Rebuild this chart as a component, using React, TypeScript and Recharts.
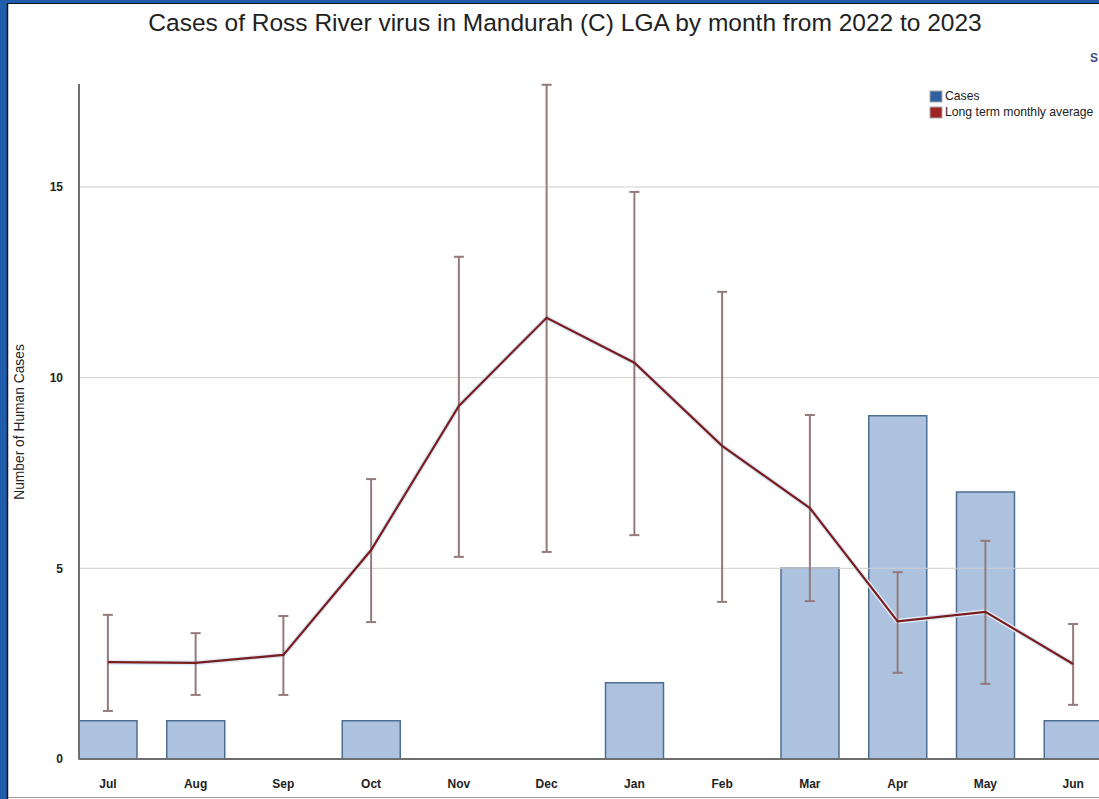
import React from 'react';
import { ComposedChart, Bar, Line, XAxis, YAxis, ReferenceLine, ErrorBar } from 'recharts';

const months = ['Jul', 'Aug', 'Sep', 'Oct', 'Nov', 'Dec', 'Jan', 'Feb', 'Mar', 'Apr', 'May', 'Jun'];
const cases = [1, 1, 0, 1, 0, 0, 2, 0, 5, 9, 7, 1];
const longTermAvg = [2.54, 2.52, 2.73, 5.48, 9.26, 11.57, 10.39, 8.21, 6.58, 3.61, 3.86, 2.49];
const rangeLow = [1.26, 1.68, 1.68, 3.59, 5.3, 5.43, 5.87, 4.12, 4.14, 2.26, 1.97, 1.42];
const rangeHigh = [3.78, 3.3, 3.75, 7.34, 13.17, 17.68, 14.87, 12.25, 9.02, 4.9, 5.72, 3.54];
const yTicks = [0, 5, 10, 15];
const gridValues = [5, 10, 15];

const data = months.map((m, i) => ({
  month: m,
  cases: cases[i],
  avg: longTermAvg[i],
  err: [longTermAvg[i] - rangeLow[i], rangeHigh[i] - longTermAvg[i]],
}));

const FONT = '"Liberation Sans", Arial, sans-serif';

const App: React.FC = () => {
  return (
    <div
      style={{
        position: 'absolute',
        left: 0,
        top: 0,
        width: 1099,
        height: 799,
        overflow: 'hidden',
        background: '#fff',
        fontFamily: FONT,
      }}
    >
      <div style={{ position: 'absolute', left: 0, top: 0 }}>
        <ComposedChart
          width={1117}
          height={797}
          data={data}
          margin={{ top: 84, right: 0, bottom: 0, left: 0 }}
        >
          {gridValues.map((v) => (
            <ReferenceLine key={v} y={v} stroke="#cfcfcf" strokeWidth={1} ifOverflow="hidden" />
          ))}
          <XAxis
            dataKey="month"
            height={38}
            padding={{ left: -15, right: 0 }}
            tickLine={false}
            axisLine={{ stroke: '#6e6e6e', strokeWidth: 2 }}
            tickMargin={14}
            tick={{ fill: '#222', fontSize: 12, fontWeight: 'bold', fontFamily: FONT }}
          />
          <YAxis
            width={79}
            domain={[0, 17.7]}
            ticks={yTicks}
            tickLine={false}
            axisLine={{ stroke: '#6e6e6e', strokeWidth: 2 }}
            tickMargin={10}
            tick={{ fill: '#222', fontSize: 12, fontWeight: 'bold', fontFamily: FONT }}
          />
          <Bar
            dataKey="cases"
            barSize={58}
            fill="#adc2df"
            stroke="#4d6e91"
            strokeWidth={1.5}
            isAnimationActive={false}
          />
          <Line
            dataKey="avg"
            type="linear"
            stroke="#dde9f6"
            strokeWidth={5}
            dot={false}
            activeDot={false}
            legendType="none"
            isAnimationActive={false}
          />
          <Line
            dataKey="avg"
            type="linear"
            stroke="#7a1c1c"
            strokeWidth={2.2}
            dot={false}
            activeDot={false}
            isAnimationActive={false}
          >
            <ErrorBar dataKey="err" width={5} stroke="#947a7b" strokeWidth={2} direction="y" />
          </Line>
        </ComposedChart>
      </div>

      <svg
        width={1099}
        height={799}
        style={{ position: 'absolute', left: 0, top: 0, pointerEvents: 'none' }}
      >
        <text x={565} y={31} textAnchor="middle" fontSize={24.5} fill="#222" fontFamily={FONT}>
          Cases of Ross River virus in Mandurah (C) LGA by month from 2022 to 2023
        </text>
        <text x={1090} y={62} fontSize={12} fontWeight="bold" fill="#3a4f8a" fontFamily={FONT}>
          S
        </text>
        <text
          x={24}
          y={422}
          transform="rotate(-90 24 422)"
          textAnchor="middle"
          fontSize={13.8}
          fill="#222"
          fontFamily={'"Liberation Sans Narrow", "Liberation Sans", Arial, sans-serif'}
        >
          Number of Human Cases
        </text>
        <rect x={930} y={91} width={12} height={11} fill="#2f5f9f" stroke="#aaa" strokeWidth={1} />
        <text x={945} y={100} fontSize={12.2} fill="#222" fontFamily={FONT}>
          Cases
        </text>
        <rect x={930} y={107} width={12} height={11} fill="#a02424" stroke="#aaa" strokeWidth={1} />
        <text x={945} y={116} fontSize={12.2} fill="#222" fontFamily={FONT}>
          Long term monthly average
        </text>
        <rect x={0} y={0} width={7} height={799} fill="#1f5cab" />
        <rect x={0} y={0} width={1099} height={3} fill="#1f5cab" />
        <line x1={7.5} y1={3} x2={7.5} y2={799} stroke="#111" strokeWidth={1.5} />
        <line x1={7} y1={3.5} x2={1099} y2={3.5} stroke="#111" strokeWidth={1} />
        <line x1={8} y1={797.5} x2={1099} y2={797.5} stroke="#999" strokeWidth={1} />
      </svg>
    </div>
  );
};

export default App;
